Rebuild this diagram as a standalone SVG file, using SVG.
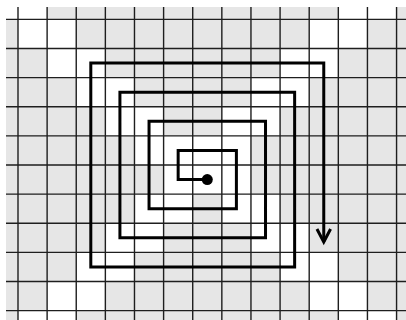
<svg xmlns="http://www.w3.org/2000/svg" width="406" height="320" viewBox="0 0 406 320">
<style>
.bg{fill:#e6e6e6}
.w{fill:#ffffff}
.grid{fill:none;stroke:#1e1e1e;stroke-width:1.4}
.sp{fill:none;stroke:#000;stroke-width:3;stroke-linejoin:miter}
</style>
<defs>
<clipPath id="area"><rect x="6" y="7" width="400" height="313"/></clipPath>
<marker id="arr" markerUnits="userSpaceOnUse" markerWidth="30" markerHeight="30" viewBox="-20 -15 30 30" refX="0" refY="0" orient="auto" overflow="visible">
<path d="M-13,-6.8 L0,0 L-13,6.8" fill="none" stroke="#000" stroke-width="3" stroke-linejoin="miter"/>
</marker>
</defs>
<g id="background"><rect class="bg" x="6" y="7" width="400" height="313"/></g>
<g id="cells" clip-path="url(#area)">
<g transform="translate(18 19.4) scale(29.12)">
<rect class="w" x="-1" y="-1" width="1" height="1"/>
<rect class="w" x="0" y="0" width="1" height="1"/>
<rect class="w" x="1" y="1" width="1" height="1"/>
<rect class="w" x="2" y="2" width="1" height="1"/>
<rect class="w" x="3" y="3" width="1" height="1"/>
<rect class="w" x="4" y="4" width="1" height="1"/>
<rect class="w" x="5" y="5" width="1" height="1"/>
<rect class="w" x="0" y="-1" width="1" height="1"/>
<rect class="w" x="1" y="0" width="1" height="1"/>
<rect class="w" x="2" y="1" width="1" height="1"/>
<rect class="w" x="3" y="2" width="1" height="1"/>
<rect class="w" x="4" y="3" width="1" height="1"/>
<rect class="w" x="5" y="4" width="1" height="1"/>
<rect class="w" x="6" y="5" width="1" height="1"/>
<rect class="w" x="7" y="6" width="1" height="1"/>
<rect class="w" x="8" y="7" width="1" height="1"/>
<rect class="w" x="9" y="8" width="1" height="1"/>
<rect class="w" x="10" y="9" width="1" height="1"/>
<rect class="w" x="11" y="10" width="1" height="1"/>
<rect class="w" x="6" y="4" width="1" height="1"/>
<rect class="w" x="7" y="5" width="1" height="1"/>
<rect class="w" x="8" y="6" width="1" height="1"/>
<rect class="w" x="9" y="7" width="1" height="1"/>
<rect class="w" x="10" y="8" width="1" height="1"/>
<rect class="w" x="11" y="9" width="1" height="1"/>
<rect class="w" x="12" y="10" width="1" height="1"/>
<rect class="w" x="11" y="-1" width="1" height="1"/>
<rect class="w" x="10" y="0" width="1" height="1"/>
<rect class="w" x="9" y="1" width="1" height="1"/>
<rect class="w" x="8" y="2" width="1" height="1"/>
<rect class="w" x="7" y="3" width="1" height="1"/>
<rect class="w" x="4" y="6" width="1" height="1"/>
<rect class="w" x="3" y="7" width="1" height="1"/>
<rect class="w" x="2" y="8" width="1" height="1"/>
<rect class="w" x="1" y="9" width="1" height="1"/>
<rect class="w" x="0" y="10" width="1" height="1"/>
<rect class="w" x="12" y="-1" width="1" height="1"/>
<rect class="w" x="11" y="0" width="1" height="1"/>
<rect class="w" x="10" y="1" width="1" height="1"/>
<rect class="w" x="9" y="2" width="1" height="1"/>
<rect class="w" x="8" y="3" width="1" height="1"/>
<rect class="w" x="7" y="4" width="1" height="1"/>
<rect class="w" x="5" y="6" width="1" height="1"/>
<rect class="w" x="4" y="7" width="1" height="1"/>
<rect class="w" x="3" y="8" width="1" height="1"/>
<rect class="w" x="2" y="9" width="1" height="1"/>
<rect class="w" x="1" y="10" width="1" height="1"/>
</g>
</g>
<g id="grid">
<path class="grid" d="M18,7V320 M47.12,7V320 M76.24,7V320 M105.36,7V320 M134.48,7V320 M163.6,7V320 M192.72,7V320 M221.84,7V320 M250.96,7V320 M280.08,7V320 M309.2,7V320 M338.32,7V320 M367.44,7V320 M396.56,7V320
M6,19.4H406 M6,48.52H406 M6,77.64H406 M6,106.76H406 M6,135.88H406 M6,165H406 M6,194.12H406 M6,223.24H406 M6,252.36H406 M6,281.48H406 M6,310.6H406"/>
</g>
<g id="connectors">
<path class="sp" marker-end="url(#arr)" d="M207.28,179.56 H178.16 V150.44 H236.4 V208.68 H149.04 V121.32 H265.52 V237.8 H119.92 V92.2 H294.64 V266.92 H90.8 V63.08 H323.76 V242"/>
</g>
<g id="start-dot"><circle cx="207.28" cy="179.56" r="5.5" fill="#000"/></g>
</svg>
